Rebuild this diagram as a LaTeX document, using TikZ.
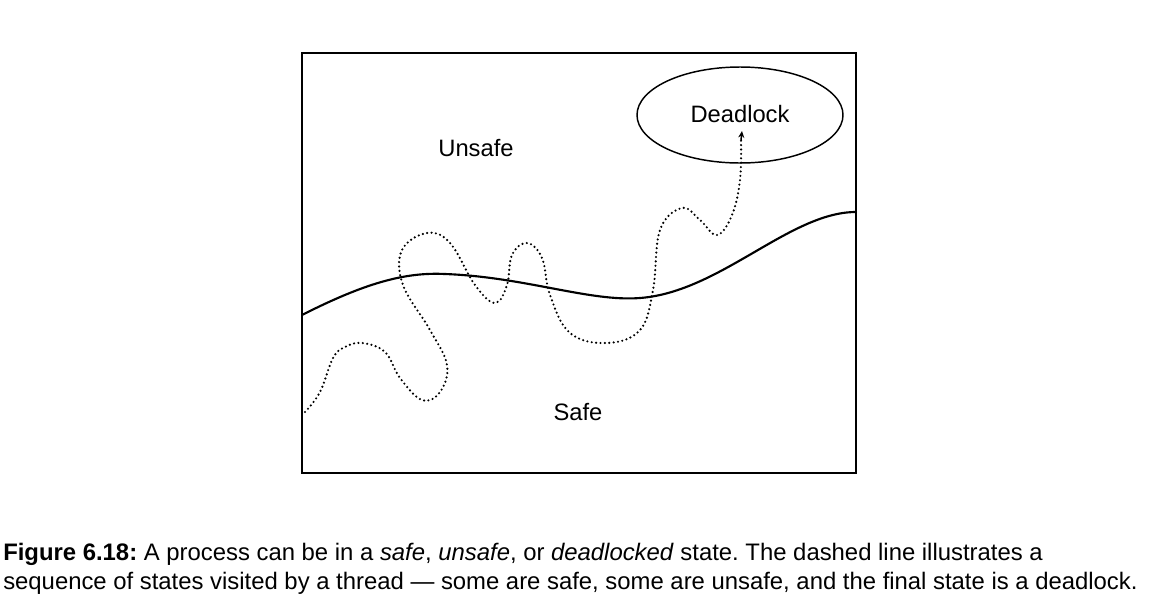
\documentclass[tikz,border=0pt]{standalone}
\usepackage{fontspec}
\setmainfont{Liberation Sans}
\usetikzlibrary{shapes.geometric,arrows.meta}
\frenchspacing
\begin{document}
\begin{tikzpicture}[x=0.75pt,y=-0.75pt,
  lbl/.style={font=\fontsize{17.8}{20}\selectfont, inner sep=0pt},
  captext/.style={font=\fontsize{17.9}{20}\selectfont, inner sep=0pt, anchor=base west},
  region/.style={draw, line width=1.1pt},
  border/.style={draw, line width=1.6pt, line cap=round},
  trail/.style={draw, line width=1.8pt, line cap=round, dash pattern=on 0pt off 3.3pt},
]
\useasboundingbox (0,0) rectangle (1153,597);
\draw[region] (302,53) rectangle (856,473);
\node[region, ellipse, minimum width=206*0.75pt, minimum height=96*0.75pt, inner sep=0pt] (dl) at (740,115) {};
\node[lbl] (dltext) at (740,114) {Deadlock};
\node[lbl] (unsafe) at (476,148) {Unsafe};
\node[lbl] (safe) at (578,412) {Safe};
\coordinate (tip) at (742,131);
\draw[border] (302,315) .. controls (365,283) and (405,272) .. (445,274) .. controls (525,277) and (590,302) .. (640,298) .. controls (720,292) and (790,212) .. (856,212);
\draw[trail] plot[smooth, tension=0.65] coordinates {
(305,412) (320,392) (333,358) (345,347) (362,343) (385,352) (400,378) (422,400) (440,392) (447,365) (430,330) (403,285) (402,250) (427,233) (450,243) (475,285) (495,303) (507,285) (512,255) (527,243) (542,258) (550,295) (570,333) (607,343) (640,330) (653,290) (660,230) (682,208) (700,220) (717,235) (732,215) (740,180) (741,140)};
\draw[line width=1.1pt, -{Stealth[length=5pt,width=4.5pt]}] (741,140) -- (tip);
\node[captext] (cap1) at (3,560) {\textbf{Figure 6.18:} A process can be in a \textit{safe}, \textit{unsafe}, or \textit{deadlocked} state. The dashed line illustrates a};
\node[captext] (cap2) at (3,589) {sequence of states visited by a thread --- some are safe, some are unsafe, and the final state is a deadlock.};
\end{tikzpicture}
\end{document}
